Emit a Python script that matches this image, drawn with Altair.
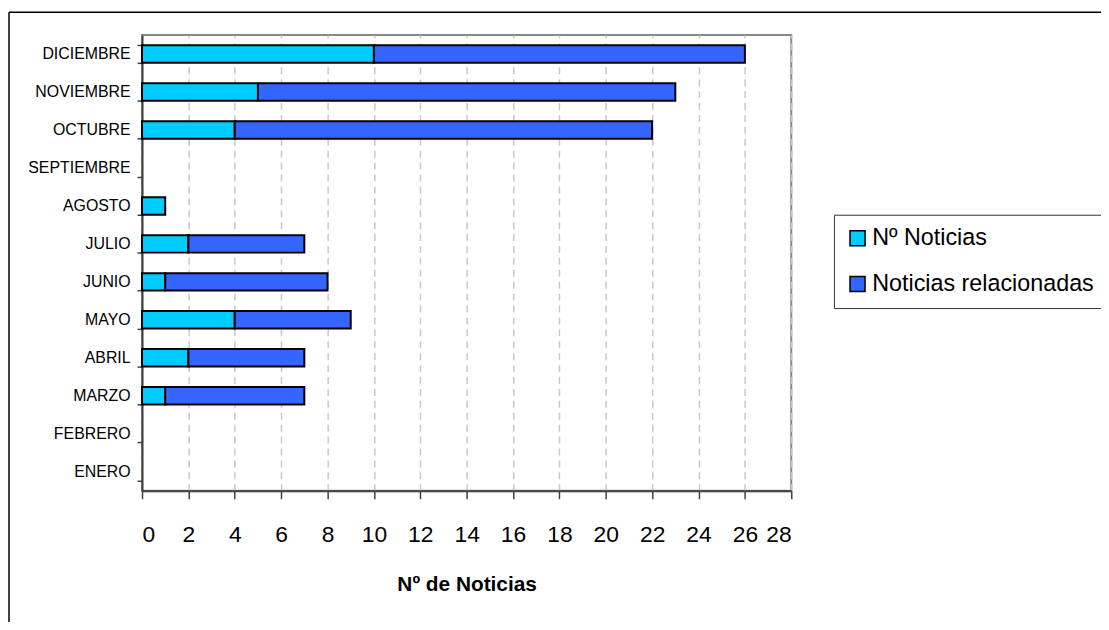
import altair as alt
import pandas as pd

months = ["ENERO", "FEBRERO", "MARZO", "ABRIL", "MAYO", "JUNIO", "JULIO",
          "AGOSTO", "SEPTIEMBRE", "OCTUBRE", "NOVIEMBRE", "DICIEMBRE"]
n_noticias = [0, 0, 1, 2, 4, 1, 2, 1, 0, 4, 5, 10]
relacionadas = [0, 0, 6, 5, 5, 7, 5, 0, 0, 18, 18, 16]
series = ["Nº Noticias", "Noticias relacionadas"]
colors = ["#00CCFF", "#3366FF"]
x_ticks = list(range(0, 29, 2))

rows = []
for m, a, b in zip(months, n_noticias, relacionadas):
    rows.append({"mes": m, "serie": series[0], "valor": a, "orden": 0})
    rows.append({"mes": m, "serie": series[1], "valor": b, "orden": 1})
df = pd.DataFrame(rows)

FONT = "Liberation Sans, Arial"

bars = alt.Chart(df).transform_filter("datum.valor > 0").mark_bar(
    stroke="#000000", strokeWidth=2
).encode(
    x=alt.X("sum(valor):Q", stack="zero",
            scale=alt.Scale(domain=[0, 28], nice=False),
            axis=alt.Axis(values=x_ticks, title="Nº de Noticias", format="d",
                          grid=True, gridDash=[7, 5], gridColor="#C8C8C8", gridWidth=1.5,
                          domainColor="#404040", domainWidth=2,
                          tickColor="#404040", tickWidth=1.5, tickSize=8,
                          labelFontSize=23, labelPadding=25, labelColor="#000000",
                          labelFont=FONT,
                          titleFont=FONT, titleFontSize=21, titleFontWeight="bold",
                          titleColor="#000000", titlePadding=28)),
    y=alt.Y("mes:N", sort=None,
            scale=alt.Scale(domain=months[::-1], paddingInner=0.54, paddingOuter=0.27),
            axis=alt.Axis(title=None, tickBand="extent", grid=False,
                          domainColor="#404040", domainWidth=2,
                          tickColor="#404040", tickWidth=1.5, tickSize=5,
                          labelFontSize=16, labelPadding=7, labelColor="#000000",
                          labelFont=FONT)),
    color=alt.Color("serie:N",
                    scale=alt.Scale(domain=series, range=colors),
                    legend=alt.Legend(title=None, orient="none", legendX=697, legendY=181,
                                      symbolType="square", symbolSize=230,
                                      symbolStrokeColor="#000000", symbolStrokeWidth=1.5,
                                      symbolOpacity=1,
                                      labelFontSize=23.5, labelFont=FONT, labelColor="#000000",
                                      labelOffset=3, rowPadding=21, padding=12,
                                      strokeColor="#333333", labelLimit=400)),
    order=alt.Order("orden:Q"),
)

frame_data = alt.Data(values=[{"k": 1}])
frame_left = alt.Chart(frame_data).mark_rule(color="#000000", strokeWidth=1.5).encode(
    x=alt.value(-134), y=alt.value(-23), y2=alt.value(700)
)
frame_top = alt.Chart(frame_data).mark_rule(color="#000000", strokeWidth=1.5).encode(
    x=alt.value(-134), x2=alt.value(1200), y=alt.value(-23)
)

chart = alt.layer(bars, frame_left, frame_top).properties(
    width=654, height=459,
    autosize=alt.AutoSizeParams(type="none"),
    padding={"left": 135, "top": 25, "right": 312, "bottom": 130},
    background="#FFFFFF",
).configure_view(
    stroke="#888888", strokeWidth=2
)

chart.save("out.html", embed_options={"renderer": "svg", "actions": False})
